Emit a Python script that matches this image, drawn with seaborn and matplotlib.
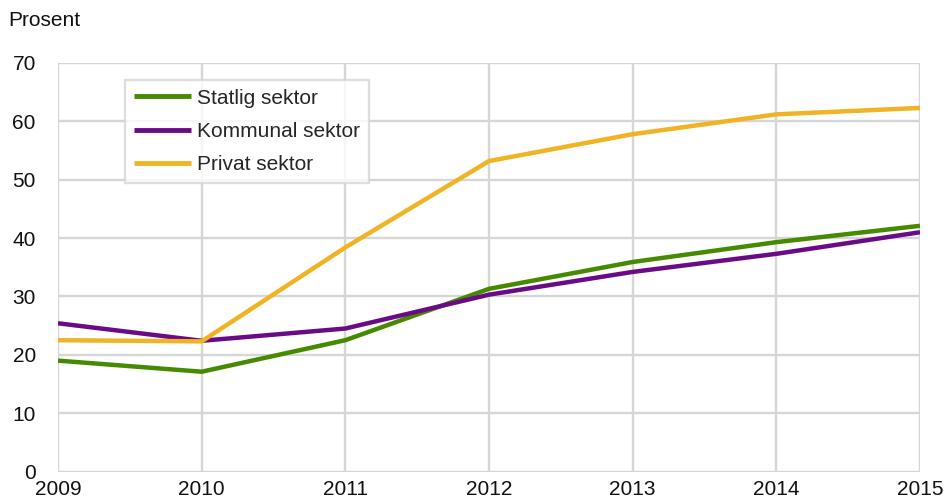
import numpy as np
import pandas as pd
import seaborn as sns
import matplotlib.pyplot as plt

years = [2009, 2010, 2011, 2012, 2013, 2014, 2015]
statlig = [19.0, 17.1, 22.5, 31.3, 35.9, 39.3, 42.1]
kommunal = [25.4, 22.4, 24.5, 30.3, 34.2, 37.3, 41.0]
privat = [22.5, 22.3, 38.4, 53.2, 57.8, 61.2, 62.3]
series_names = ["Statlig sektor", "Kommunal sektor", "Privat sektor"]
colors = ["#458a00", "#6b0a86", "#f0b323"]

df = pd.DataFrame({"year": years * 3,
                   "value": statlig + kommunal + privat,
                   "sektor": np.repeat(series_names, len(years))})

sns.set_style("white")
plt.rcParams['font.family'] = ['Liberation Sans', 'DejaVu Sans']
fs = 15

fig = plt.figure(figsize=(9.44, 4.97), dpi=100)
ax = fig.add_axes([58/944, 1-471.5/497, (920-58)/944, (471.5-63)/497])

sns.lineplot(data=df, x="year", y="value", hue="sektor", palette=colors,
             linewidth=3.2, ax=ax, zorder=3)
for line in ax.get_lines():
    line.set_solid_capstyle("butt")

ax.set_xlim(2009, 2015)
ax.set_ylim(0, 70)
ax.set_xticks(years)
ax.set_yticks(range(0, 71, 10))
ax.grid(True, color="#d6d6d6", linewidth=1.7, zorder=0)
ax.set_axisbelow(True)
for s in ax.spines.values():
    s.set_visible(False)
ax.tick_params(axis="both", length=0, labelsize=fs, colors="#111111")
ax.tick_params(axis="x", pad=6)
ax.tick_params(axis="y", pad=16)
ax.set_xlabel("")
ax.set_ylabel("")

fig.text(8/944, 1-20/497, "Prosent", fontsize=fs, va="center", ha="left", color="#111111")

leg = ax.legend(loc="upper left", bbox_to_anchor=((125-58)/862, 1-(80-63)/408.5),
                borderaxespad=0, frameon=True, fontsize=fs, handlelength=2.75,
                handletextpad=0.3, borderpad=0.42, labelspacing=0.68,
                fancybox=False, title=None)
leg.get_frame().set_edgecolor("#d6d6d6")
leg.get_frame().set_linewidth(1.7)
for h in leg.get_lines():
    h.set_linewidth(3.5)

fig.savefig("out.png", dpi=100)
